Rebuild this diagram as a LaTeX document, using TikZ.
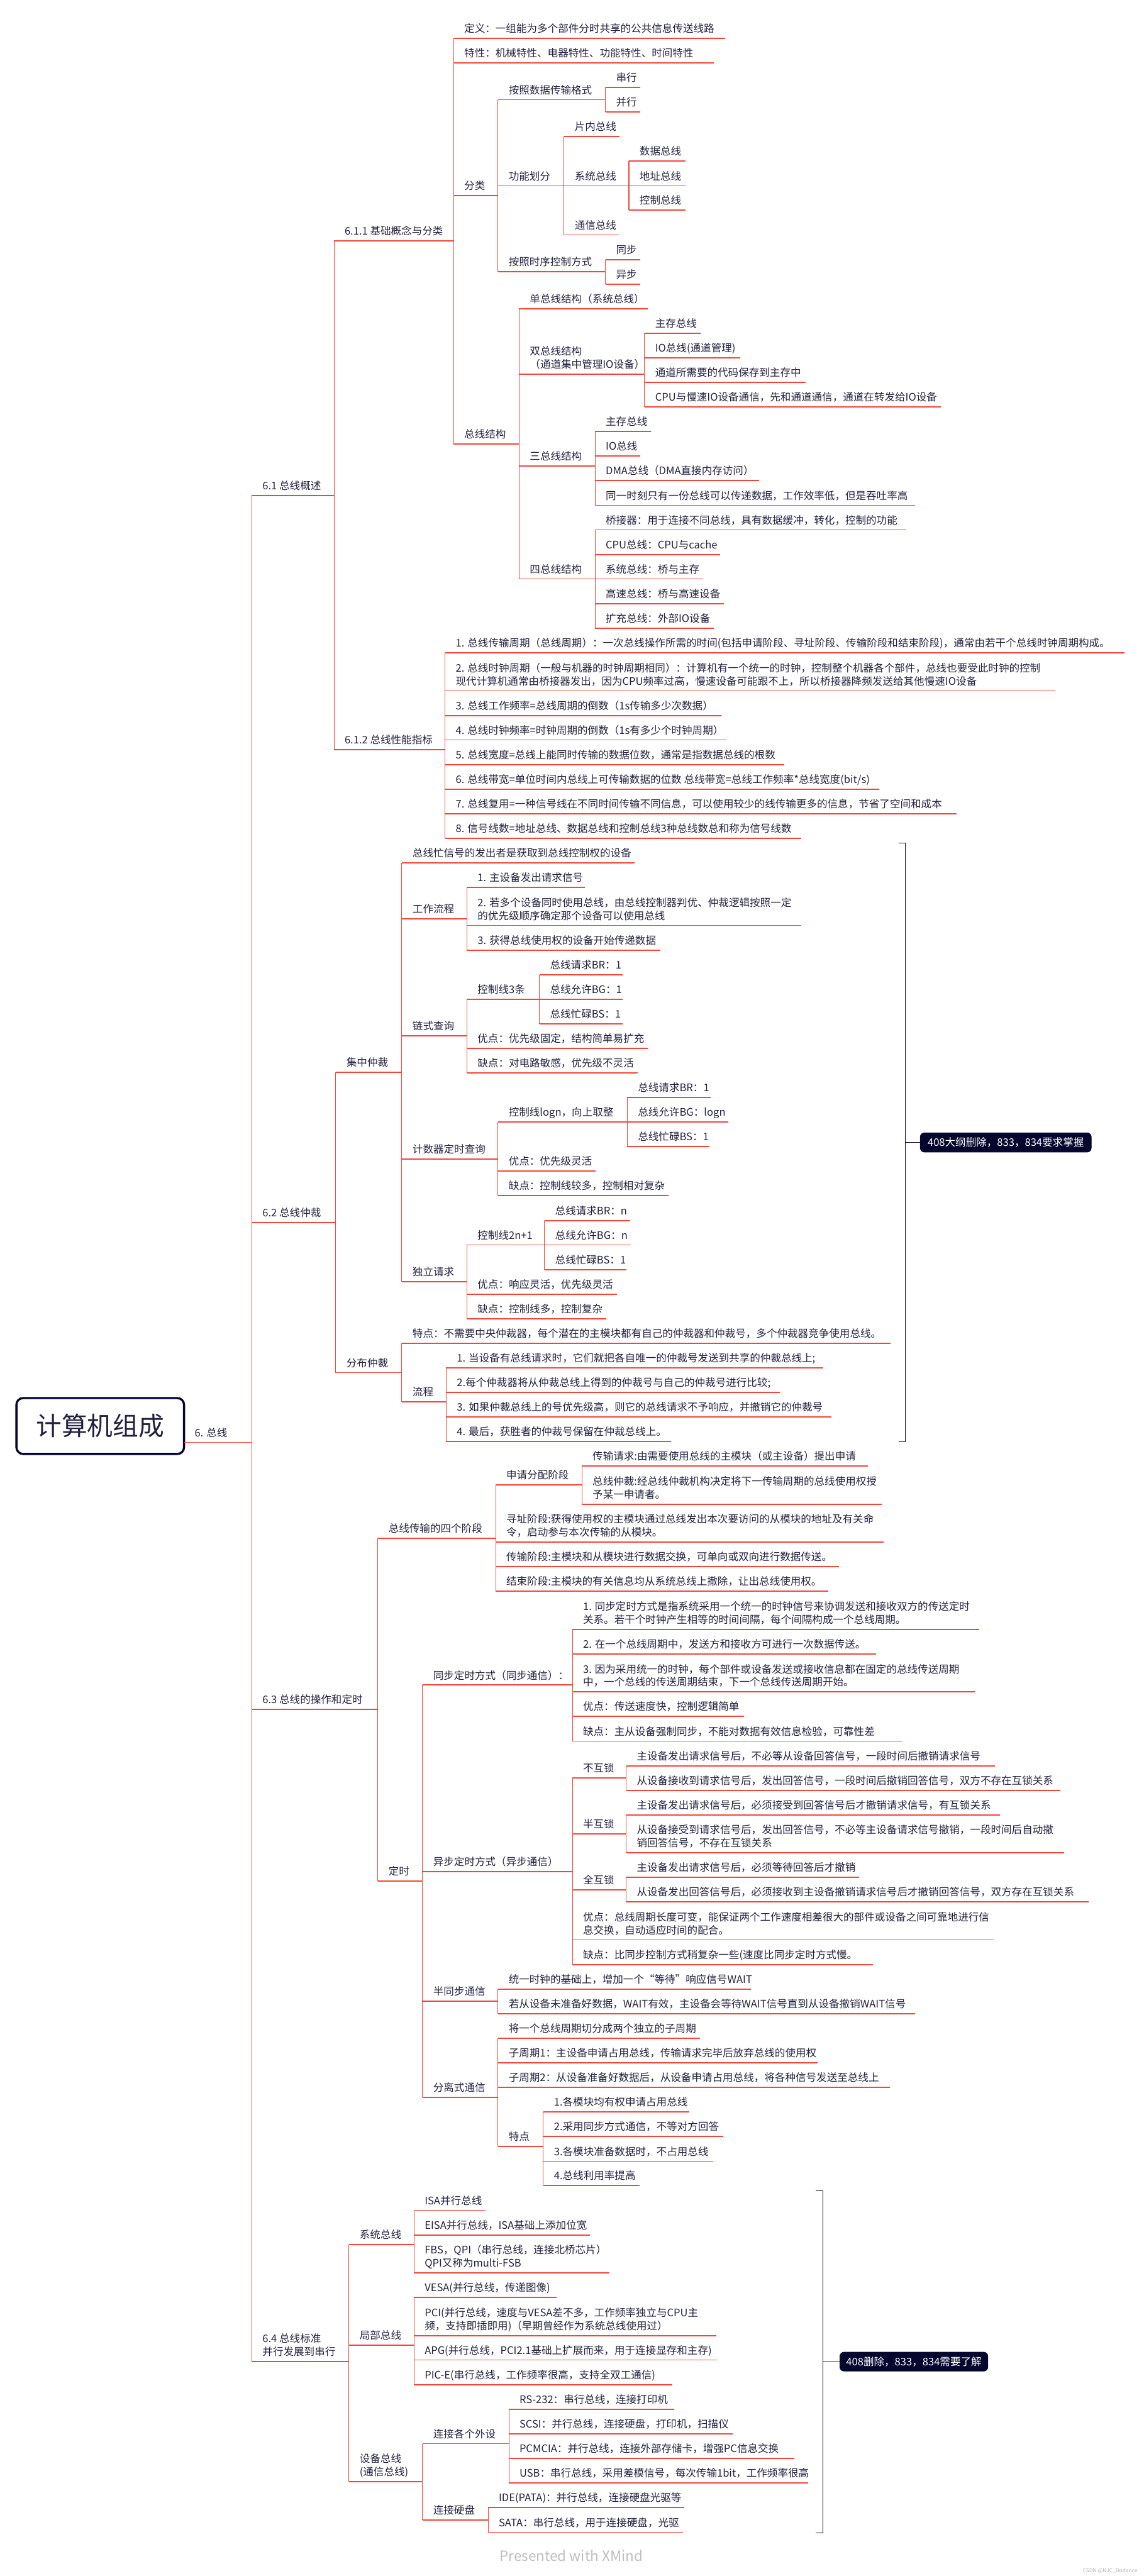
\documentclass[tikz,border=0pt]{standalone}
\usepackage{fontspec}
\setmainfont{Noto Sans CJK SC}
\usetikzlibrary{calc}
\definecolor{tc}{HTML}{22223F}
\definecolor{lc}{HTML}{F2463C}
\definecolor{nv}{HTML}{05062E}
\tikzset{
  txt/.style={anchor=base west, inner sep=0pt, outer sep=0pt, align=left, font=\fontsize{6.34}{8}\selectfont, text=tc},
  ul/.style={draw=lc, line width=0.7pt},
  vl/.style={draw=lc, line width=0.4pt},
  brk/.style={draw=nv, line width=0.4pt},
  sumbox/.style={fill=nv, draw=nv, rounded corners=2.5pt, text=white, inner sep=0pt, font=\fontsize{6.34}{8}\selectfont},
  rootbox/.style={draw=nv, line width=1.3pt, fill=white, rounded corners=4pt, text=tc, inner sep=0pt, font=\fontsize{15.6}{18}\selectfont}
}
% name, left x of underline, underline y, right x, text ; optional: number of lines (last line sits on the underline)
\newcommand\mmtopic[6][1]{%
  \coordinate (#2-l) at (#3,#4);
  \coordinate (#2-r) at (#5,#4);
  \node[txt] (#2) at ({#3+6.5},{#4-3.6}) {#6};
  \draw[ul] (#2-l) -- (#2-r);
}
\begin{document}
\begin{tikzpicture}[x=1pt,y=-1pt]
\path[fill=white] (0,0) rectangle (696,1568);
\useasboundingbox (0,0) rectangle (696,1568);

% root
\node[rootbox, minimum width=102pt, minimum height=34pt] (root) at (61,868) {计算机组成};
\mmtopic{bus}{112}{878}{153.3}{6. 总线}

% level 1
\mmtopic{a}{153.3}{301.5}{203.3}{6.1 总线概述}
\mmtopic{b}{153.3}{744.2}{204.4}{6.2 总线仲裁}
\mmtopic{c}{153.3}{1040.6}{230}{6.3 总线的操作和定时}
\mmtopic[2]{d}{153.3}{1437.5}{212.4}{6.4 总线标准\\并行发展到串行}
\draw[vl] (a-l) -- (d-l);

% 6.1
\mmtopic{a1}{203.3}{146.7}{276.1}{6.1.1 基础概念与分类}
\mmtopic{a2}{203.3}{456.3}{270.9}{6.1.2 总线性能指标}
\draw[vl] (a1-l) -- (a2-l);

\mmtopic{a11}{276.1}{23.3}{441.3}{定义：一组能为多个部件分时共享的公共信息传送线路}
\mmtopic{a12}{276.1}{38.3}{434.3}{特性：机械特性、电器特性、功能特性、时间特性}
\mmtopic{a13}{276.1}{118.9}{303.1}{分类}
\mmtopic{a14}{276.1}{270.2}{316.0}{总线结构}
\draw[vl] (a11-l) -- (a14-l);

\mmtopic{a131}{303.1}{60.7}{368.5}{按照数据传输格式}
\mmtopic{a132}{303.1}{113.1}{343.3}{功能划分}
\mmtopic{a133}{303.1}{165.3}{368.5}{按照时序控制方式}
\draw[vl] (a131-l) -- (a133-l);

\mmtopic{a1311}{368.5}{53.2}{389.8}{串行}
\mmtopic{a1312}{368.5}{68.2}{389.8}{并行}
\draw[vl] (a1311-l) -- (a1312-l);

\mmtopic{a1321}{343.3}{83.2}{377.2}{片内总线}
\mmtopic{a1322}{343.3}{113.1}{382.8}{系统总线}
\mmtopic{a1323}{343.3}{143.0}{377.2}{通信总线}
\draw[vl] (a1321-l) -- (a1323-l);
\mmtopic{a13221}{382.8}{98.1}{417.1}{数据总线}
\mmtopic{a13222}{382.8}{113.1}{417.1}{地址总线}
\mmtopic{a13223}{382.8}{128.0}{417.1}{控制总线}
\draw[vl] (a13221-l) -- (a13223-l);

\mmtopic{a1331}{368.5}{158.0}{389.8}{同步}
\mmtopic{a1332}{368.5}{172.9}{389.8}{异步}
\draw[vl] (a1331-l) -- (a1332-l);

\mmtopic{a141}{316.0}{187.9}{394.4}{单总线结构（系统总线）}
\mmtopic[2]{a142}{316.0}{227.7}{392.3}{双总线结构\\（通道集中管理IO设备）}
\mmtopic{a143}{316.0}{283.6}{362.2}{三总线结构}
\mmtopic{a144}{316.0}{352.4}{362.2}{四总线结构}
\draw[vl] (a141-l) -- (a144-l);

\mmtopic{a1421}{392.3}{202.8}{426.6}{主存总线}
\mmtopic{a1422}{392.3}{217.8}{450.7}{IO总线(通道管理)}
\mmtopic{a1423}{392.3}{232.7}{490.3}{通道所需要的代码保存到主存中}
\mmtopic{a1424}{392.3}{247.6}{572.8}{CPU与慢速IO设备通信，先和通道通信，通道在转发给IO设备}
\draw[vl] (a1421-l) -- (a1424-l);

\mmtopic{a1431}{362.2}{262.7}{396.1}{主存总线}
\mmtopic{a1432}{362.2}{277.6}{389.8}{IO总线}
\mmtopic{a1433}{362.2}{292.6}{461.9}{DMA总线（DMA直接内存访问）}
\mmtopic{a1434}{362.2}{307.6}{556.8}{同一时刻只有一份总线可以传递数据，工作效率低，但是吞吐率高}
\draw[vl] (a1431-l) -- (a1434-l);

\mmtopic{a1441}{362.2}{322.5}{551.5}{桥接器：用于连接不同总线，具有数据缓冲，转化，控制的功能}
\mmtopic{a1442}{362.2}{337.5}{438.5}{CPU总线：CPU与cache}
\mmtopic{a1443}{362.2}{352.4}{428.0}{系统总线：桥与主存}
\mmtopic{a1444}{362.2}{367.4}{440.6}{高速总线：桥与高速设备}
\mmtopic{a1445}{362.2}{382.3}{434.3}{扩充总线：外部IO设备}
\draw[vl] (a1441-l) -- (a1445-l);

\mmtopic{a21}{270.9}{397.4}{684.5}{1. 总线传输周期（总线周期）：一次总线操作所需的时间(包括申请阶段、寻址阶段、传输阶段和结束阶段)，通常由若干个总线时钟周期构成。}
\mmtopic[2]{a22}{270.9}{420.5}{642.5}{2. 总线时钟周期（一般与机器的时钟周期相同）：计算机有一个统一的时钟，控制整个机器各个部件，总线也要受此时钟的控制\\现代计算机通常由桥接器发出，因为CPU频率过高，慢速设备可能跟不上，所以桥接器降频发送给其他慢速IO设备}
\mmtopic{a23}{270.9}{435.5}{439.2}{3. 总线工作频率=总线周期的倒数（1s传输多少次数据）}
\mmtopic{a24}{270.9}{450.4}{442.3}{4. 总线时钟频率=时钟周期的倒数（1s有多少个时钟周期）}
\mmtopic{a25}{270.9}{465.4}{477.3}{5. 总线宽度=总线上能同时传输的数据位数，通常是指数据总线的根数}
\mmtopic{a26}{270.9}{480.4}{535.1}{6. 总线带宽=单位时间内总线上可传输数据的位数 总线带宽=总线工作频率*总线宽度(bit/s)}
\mmtopic{a27}{270.9}{495.3}{582.3}{7. 总线复用=一种信号线在不同时间传输不同信息，可以使用较少的线传输更多的信息，节省了空间和成本}
\mmtopic{a28}{270.9}{510.3}{487.8}{8. 信号线数=地址总线、数据总线和控制总线3种总线数总和称为信号线数}
\draw[vl] (a21-l) -- (a28-l);

% 6.2
\mmtopic{b1}{204.4}{652.7}{244.6}{集中仲裁}
\mmtopic{b2}{204.4}{835.5}{244.6}{分布仲裁}
\draw[vl] (b1-l) -- (b2-l);

\mmtopic{b11}{244.6}{525.2}{386.3}{总线忙信号的发出者是获取到总线控制权的设备}
\mmtopic{b12}{244.6}{559.3}{284.2}{工作流程}
\mmtopic{b13}{244.6}{630.6}{284.2}{链式查询}
\mmtopic{b14}{244.6}{705.4}{303.1}{计数器定时查询}
\mmtopic{b15}{244.6}{780.2}{284.2}{独立请求}
\draw[vl] (b11-l) -- (b15-l);

\mmtopic{b121}{284.2}{540.2}{355.9}{1. 主设备发出请求信号}
\mmtopic[2]{b122}{284.2}{563.3}{487.8}{2. 若多个设备同时使用总线，由总线控制器判优、仲裁逻辑按照一定\\的优先级顺序确定那个设备可以使用总线}
\mmtopic{b123}{284.2}{578.3}{402.1}{3. 获得总线使用权的设备开始传递数据}
\draw[vl] (b121-l) -- (b123-l);

\mmtopic{b131}{284.2}{608.2}{328.3}{控制线3条}
\mmtopic{b132}{284.2}{638.1}{394.4}{优点：优先级固定，结构简单易扩充}
\mmtopic{b133}{284.2}{653.1}{388.1}{缺点：对电路敏感，优先级不灵活}
\draw[vl] (b131-l) -- (b133-l);
\mmtopic{b1311}{328.3}{593.3}{379.0}{总线请求BR：1}
\mmtopic{b1312}{328.3}{608.2}{379.0}{总线允许BG：1}
\mmtopic{b1313}{328.3}{623.2}{379.0}{总线忙碌BS：1}
\draw[vl] (b1311-l) -- (b1313-l);

\mmtopic{b141}{303.1}{683.0}{381.8}{控制线logn，向上取整}
\mmtopic{b142}{303.1}{712.9}{362.5}{优点：优先级灵活}
\mmtopic{b143}{303.1}{727.8}{407.0}{缺点：控制线较多，控制相对复杂}
\draw[vl] (b141-l) -- (b143-l);
\mmtopic{b1411}{381.8}{668.1}{432.5}{总线请求BR：1}
\mmtopic{b1412}{381.8}{683.0}{443.4}{总线允许BG：logn}
\mmtopic{b1413}{381.8}{698.0}{431.8}{总线忙碌BS：1}
\draw[vl] (b1411-l) -- (b1413-l);

\mmtopic{b151}{284.2}{757.8}{331.4}{控制线2n+1}
\mmtopic{b152}{284.2}{787.7}{375.5}{优点：响应灵活，优先级灵活}
\mmtopic{b153}{284.2}{802.7}{369.2}{缺点：控制线多，控制复杂}
\draw[vl] (b151-l) -- (b153-l);
\mmtopic{b1511}{331.4}{742.9}{383.5}{总线请求BR：n}
\mmtopic{b1512}{331.4}{757.8}{383.9}{总线允许BG：n}
\mmtopic{b1513}{331.4}{772.8}{381.4}{总线忙碌BS：1}
\draw[vl] (b1511-l) -- (b1513-l);

\mmtopic{b21}{244.6}{817.7}{542.1}{特点：不需要中央仲裁器，每个潜在的主模块都有自己的仲裁器和仲裁号，多个仲裁器竞争使用总线。}
\mmtopic{b22}{244.6}{853.4}{271.6}{流程}
\draw[vl] (b21-l) -- (b22-l);
\mmtopic{b221}{271.6}{832.6}{501.1}{1. 当设备有总线请求时，它们就把各自唯一的仲裁号发送到共享的仲裁总线上;}
\mmtopic{b222}{271.6}{847.6}{474.5}{2.每个仲裁器将从仲裁总线上得到的仲裁号与自己的仲裁号进行比较;}
\mmtopic{b223}{271.6}{862.5}{506.0}{3. 如果仲裁总线上的号优先级高，则它的总线请求不予响应，并撤销它的仲裁号}
\mmtopic{b224}{271.6}{877.5}{408.4}{4. 最后，获胜者的仲裁号保留在仲裁总线上。}
\draw[vl] (b221-l) -- (b224-l);

% summary 1
\coordinate (s1t) at (551.1,513.1);
\coordinate (s1b) at (551.1,877.7);
\coordinate (s1m) at (551.1,695.4);
\draw[brk] (546.9,513.1) -- (s1t) -- (s1b) -- (546.9,877.7);
\node[sumbox, minimum width=104pt, minimum height=11.7pt] (sum1) at (612.2,695.4) {408大纲删除，833，834要求掌握};
\draw[brk] (s1m) -- (sum1.west);

% 6.3
\mmtopic{c1}{230}{936.3}{301.7}{总线传输的四个阶段}
\mmtopic{c2}{230}{1144.9}{257.2}{定时}
\draw[vl] (c1-l) -- (c2-l);

\mmtopic{c11}{301.7}{903.9}{354.2}{申请分配阶段}
\mmtopic[2]{c12}{301.7}{938.6}{537.9}{寻址阶段:获得使用权的主模块通过总线发出本次要访问的从模块的地址及有关命\\令，启动参与本次传输的从模块。}
\mmtopic{c13}{301.7}{953.7}{510.6}{传输阶段:主模块和从模块进行数据交换，可单向或双向进行数据传送。}
\mmtopic{c14}{301.7}{968.6}{504.3}{结束阶段:主模块的有关信息均从系统总线上撤除，让出总线使用权。}
\draw[vl] (c11-l) -- (c14-l);
\mmtopic{c111}{354.2}{892.3}{528.1}{传输请求:由需要使用总线的主模块（或主设备）提出申请}
\mmtopic[2]{c112}{354.2}{915.6}{536.8}{总线仲裁:经总线仲裁机构决定将下一传输周期的总线使用权授\\予某一申请者。}
\draw[vl] (c111-l) -- (c112-l);

\mmtopic{c21}{257.2}{1025.7}{348.4}{同步定时方式（同步通信）：}
\mmtopic{c22}{257.2}{1139.1}{348.4}{异步定时方式（异步通信）}
\mmtopic{c23}{257.2}{1218.2}{303.1}{半同步通信}
\mmtopic{c24}{257.2}{1276.6}{303.1}{分离式通信}
\draw[vl] (c21-l) -- (c24-l);

\mmtopic[2]{c211}{348.4}{991.8}{595.9}{1. 同步定时方式是指系统采用一个统一的时钟信号来协调发送和接收双方的传送定时\\关系。若干个时钟产生相等的时间间隔，每个间隔构成一个总线周期。}
\mmtopic{c212}{348.4}{1006.8}{533.3}{2. 在一个总线周期中，发送方和接收方可进行一次数据传送。}
\mmtopic[2]{c213}{348.4}{1029.9}{593.5}{3. 因为采用统一的时钟，每个部件或设备发送或接收信息都在固定的总线传送周期\\中，一个总线的传送周期结束，下一个总线传送周期开始。}
\mmtopic{c214}{348.4}{1044.8}{452.8}{优点：传送速度快，控制逻辑简单}
\mmtopic{c215}{348.4}{1059.8}{549.0}{缺点：主从设备强制同步，不能对数据有效信息检验，可靠性差}
\draw[vl] (c211-l) -- (c215-l);

\mmtopic{c221}{348.4}{1082.3}{381.1}{不互锁}
\mmtopic{c222}{348.4}{1116.2}{381.1}{半互锁}
\mmtopic{c223}{348.4}{1150.2}{381.1}{全互锁}
\mmtopic[2]{c224}{348.4}{1180.8}{604.7}{优点：总线周期长度可变，能保证两个工作速度相差很大的部件或设备之间可靠地进行信\\息交换，自动适应时间的配合。}
\mmtopic{c225}{348.4}{1195.8}{531.2}{缺点：比同步控制方式稍复杂一些(速度比同步定时方式慢。}
\draw[vl] (c221-l) -- (c225-l);
\mmtopic{c2211}{381.1}{1074.8}{605.7}{主设备发出请求信号后，不必等从设备回答信号，一段时间后撤销请求信号}
\mmtopic{c2212}{381.1}{1089.8}{645.3}{从设备接收到请求信号后，发出回答信号，一段时间后撤销回答信号，双方不存在互锁关系}
\draw[vl] (c2211-l) -- (c2212-l);
\mmtopic{c2221}{381.1}{1104.7}{608.5}{主设备发出请求信号后，必须接受到回答信号后才撤销请求信号，有互锁关系}
\mmtopic[2]{c2222}{381.1}{1127.7}{647.7}{从设备接受到请求信号后，发出回答信号，不必等主设备请求信号撤销，一段时间后自动撤\\销回答信号，不存在互锁关系}
\draw[vl] (c2221-l) -- (c2222-l);
\mmtopic{c2231}{381.1}{1142.8}{522.8}{主设备发出请求信号后，必须等待回答后才撤销}
\mmtopic{c2232}{381.1}{1157.7}{662.8}{从设备发出回答信号后，必须接收到主设备撤销请求信号后才撤销回答信号，双方存在互锁关系}
\draw[vl] (c2231-l) -- (c2232-l);

\mmtopic{c231}{303.1}{1210.7}{457.0}{统一时钟的基础上，增加一个“等待”响应信号WAIT}
\mmtopic{c232}{303.1}{1225.7}{557.1}{若从设备未准备好数据，WAIT有效，主设备会等待WAIT信号直到从设备撤销WAIT信号}
\draw[vl] (c231-l) -- (c232-l);

\mmtopic{c241}{303.1}{1240.6}{426.2}{将一个总线周期切分成两个独立的子周期}
\mmtopic{c242}{303.1}{1255.6}{497.6}{子周期1：主设备申请占用总线，传输请求完毕后放弃总线的使用权}
\mmtopic{c243}{303.1}{1270.5}{541.7}{子周期2：从设备准备好数据后，从设备申请占用总线，将各种信号发送至总线上}
\mmtopic{c244}{303.1}{1306.4}{330.7}{特点}
\draw[vl] (c241-l) -- (c244-l);
\mmtopic{c2441}{330.7}{1285.5}{419.6}{1.各模块均有权申请占用总线}
\mmtopic{c2442}{330.7}{1300.5}{440.2}{2.采用同步方式通信，不等对方回答}
\mmtopic{c2443}{330.7}{1315.5}{434.0}{3.各模块准备数据时，不占用总线}
\mmtopic{c2444}{330.7}{1330.4}{389.5}{4.总线利用率提高}
\draw[vl] (c2441-l) -- (c2444-l);

% 6.4
\mmtopic{d1}{212.4}{1366.2}{252.0}{系统总线}
\mmtopic{d2}{212.4}{1427.6}{252.0}{局部总线}
\mmtopic[2]{d3}{212.4}{1510.6}{257.2}{设备总线\\(通信总线)}
\draw[vl] (d1-l) -- (d3-l);

\mmtopic{d11}{252.0}{1345.4}{295.7}{ISA并行总线}
\mmtopic{d12}{252.0}{1360.4}{359.0}{EISA并行总线，ISA基础上添加位宽}
\mmtopic[2]{d13}{252.0}{1383.5}{371.0}{FBS，QPI（串行总线，连接北桥芯片）\\QPI又称为multi-FSB}
\draw[vl] (d11-l) -- (d13-l);

\mmtopic{d21}{252.0}{1398.4}{338.8}{VESA(并行总线，传递图像)}
\mmtopic[2]{d22}{252.0}{1421.7}{436.0}{PCI(并行总线，速度与VESA差不多，工作频率独立与CPU主\\频，支持即插即用)（早期曾经作为系统总线使用过）}
\mmtopic{d23}{252.0}{1436.5}{436.4}{APG(并行总线，PCI2.1基础上扩展而来，用于连接显存和主存)}
\mmtopic{d24}{252.0}{1451.6}{409.1}{PIC-E(串行总线，工作频率很高，支持全双工通信)}
\draw[vl] (d21-l) -- (d24-l);

\mmtopic{d31}{257.2}{1487.4}{309.7}{连接各个外设}
\mmtopic{d32}{257.2}{1533.8}{297.1}{连接硬盘}
\draw[vl] (d31-l) -- (d32-l);
\mmtopic{d311}{309.7}{1466.6}{410.5}{RS-232：串行总线，连接打印机}
\mmtopic{d312}{309.7}{1481.5}{445.8}{SCSI：并行总线，连接硬盘，打印机，扫描仪}
\mmtopic{d313}{309.7}{1496.5}{483.3}{PCMCIA：并行总线，连接外部存储卡，增强PC信息交换}
\mmtopic{d314}{309.7}{1511.4}{492.0}{USB：串行总线，采用差模信号，每次传输1bit，工作频率很高}
\draw[vl] (d311-l) -- (d314-l);
\mmtopic{d321}{297.1}{1526.3}{416.4}{IDE(PATA)：并行总线，连接硬盘光驱等}
\mmtopic{d322}{297.1}{1541.4}{415.7}{SATA：串行总线，用于连接硬盘，光驱}
\draw[vl] (d321-l) -- (d322-l);

% summary 2
\coordinate (s2t) at (500.8,1333.4);
\coordinate (s2b) at (500.8,1541.6);
\coordinate (s2m) at (500.8,1437.5);
\draw[brk] (496.6,1333.4) -- (s2t) -- (s2b) -- (496.6,1541.6);
\node[sumbox, minimum width=90pt, minimum height=11.5pt] (sum2) at (556.25,1437.5) {408删除，833，834需要了解};
\draw[brk] (s2m) -- (sum2.west);

% watermarks
\node[text=black!25, inner sep=0pt, font=\fontsize{8.6}{10}\selectfont] (xm) at (347.7,1555.5) {Presented with XMind};
\node[text=black!30, inner sep=0pt, font=\fontsize{3.2}{4}\selectfont, anchor=east] (csdn) at (692.5,1564.8) {CSDN @NJC\_Dodance};
\end{tikzpicture}
\end{document}
